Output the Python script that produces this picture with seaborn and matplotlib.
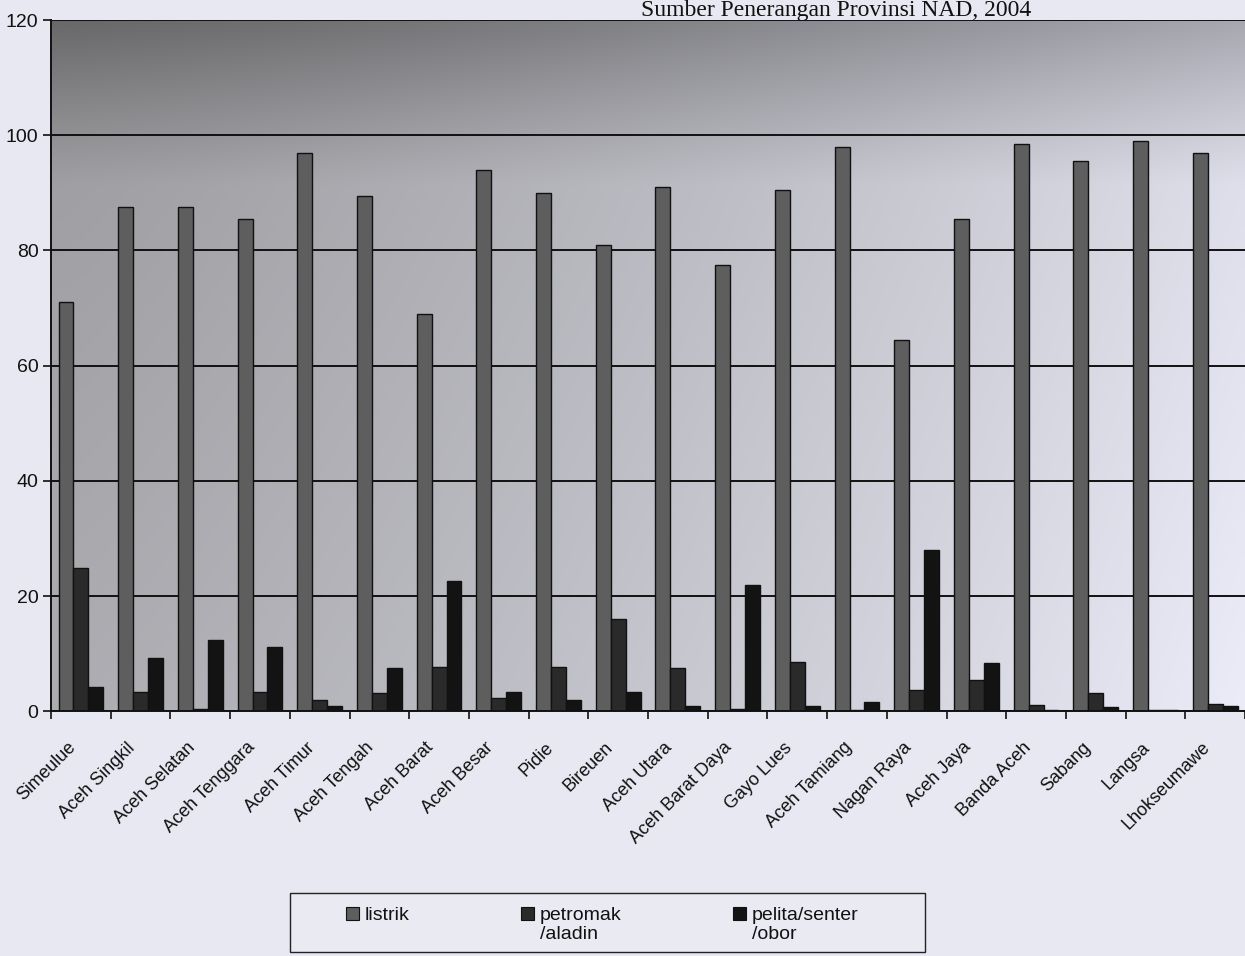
import numpy as np
import pandas as pd
import matplotlib
matplotlib.use("Agg")
import matplotlib.pyplot as plt
import matplotlib.transforms as mtransforms
import seaborn as sns
from matplotlib.patches import Rectangle
from matplotlib.legend_handler import HandlerPatch
from matplotlib.ticker import FixedLocator

# ---------------- data ----------------
categories = ["Simeulue", "Aceh Singkil", "Aceh Selatan", "Aceh Tenggara", "Aceh Timur",
              "Aceh Tengah", "Aceh Barat", "Aceh Besar", "Pidie", "Bireuen",
              "Aceh Utara", "Aceh Barat Daya", "Gayo Lues", "Aceh Tamiang", "Nagan Raya",
              "Aceh Jaya", "Banda Aceh", "Sabang", "Langsa", "Lhokseumawe"]
listrik = [71.0, 87.5, 87.5, 85.5, 97.0, 89.5, 69.0, 94.0, 90.0, 81.0,
           91.0, 77.5, 90.5, 98.0, 64.5, 85.5, 98.5, 95.5, 99.0, 97.0]
petromak = [24.9, 3.3, 0.4, 3.3, 2.0, 3.2, 7.7, 2.3, 7.7, 16.0,
            7.5, 0.4, 8.6, 0.3, 3.7, 5.4, 1.1, 3.2, 0.3, 1.3]
pelita = [4.2, 9.3, 12.3, 11.2, 0.9, 7.5, 22.6, 3.3, 2.0, 3.3,
          0.9, 22.0, 1.0, 1.6, 28.0, 8.4, 0.3, 0.8, 0.2, 0.9]
series_names = ["listrik", "petromak\n/aladin", "pelita/senter\n/obor"]
yticks = [0, 20, 40, 60, 80, 100, 120]
title_text = "Sumber Penerangan Provinsi NAD, 2004"

df = pd.DataFrame({
    "kabupaten": categories * 3,
    "sumber": [series_names[0]] * len(categories) + [series_names[1]] * len(categories)
              + [series_names[2]] * len(categories),
    "persen": listrik + petromak + pelita,
})

sns.set_theme(style="white")
plt.rcParams["font.family"] = ["Liberation Sans", "DejaVu Sans"]

bar_colors = ["#5e5e5e", "#2a2a2a", "#131313"]

fig = plt.figure(figsize=(12.45, 9.56), dpi=100, facecolor="#e7e8f1")
ax = fig.add_axes([0.041, 0.256, 0.959, 0.723])

sns.barplot(data=df, x="kabupaten", y="persen", hue="sumber", hue_order=series_names,
            order=categories, palette=bar_colors, width=0.75, edgecolor="#111111",
            linewidth=1.0, ax=ax, legend=False, zorder=2)

# background gradient (scanned grey look): lighter to the right, darker at the top
ny, nx = 200, 300
yy, xx = np.mgrid[0:1:complex(0, ny), 0:1:complex(0, nx)]   # yy = 0 at top row
base_l = np.array([160, 160, 164]) / 255
base_r = np.array([222, 223, 234]) / 255
xw = np.clip(xx ** 1.3, 0, 1)[..., None]
base = (1 - xw) * base_l + xw * base_r
topdark = (np.clip(1 - yy / 0.24, 0, 1) ** 1.1)[..., None] * np.array([0.22, 0.22, 0.23])
lowlight = (np.clip((yy - 0.24) / 0.76, 0, 1))[..., None] * np.array([0.05, 0.05, 0.055])
grad = np.clip(base - topdark + lowlight, 0, 1)
ax.imshow(grad, extent=[-0.5, len(categories) - 0.5, 0, 120], aspect="auto",
          origin="upper", zorder=0, interpolation="bilinear")

ax.set_xlim(-0.5, len(categories) - 0.5)
ax.set_ylim(0, 120)
ax.set_yticks(yticks)
ax.set_yticklabels([str(v) for v in yticks], fontsize=14)
ax.yaxis.grid(True, color="#111111", linewidth=1.4)
ax.set_axisbelow(True)
ax.set_xlabel("")
ax.set_ylabel("")

ax.tick_params(axis="y", which="major", direction="out", length=6, width=1.2,
               color="#111111", pad=3, labelcolor="#111111", left=True)
ax.set_xticks(range(len(categories)))
ax.set_xticklabels(categories, rotation=45, ha="right", rotation_mode="anchor",
                   fontsize=13, color="#111111")
ax.tick_params(axis="x", which="major", length=0, pad=20)
offset = mtransforms.ScaledTranslation(-14 / 100, 0, fig.dpi_scale_trans)
for lab in ax.get_xticklabels():
    lab.set_transform(lab.get_transform() + offset)
ax.xaxis.set_minor_locator(FixedLocator([i + 0.5 for i in range(-1, len(categories))]))
ax.tick_params(axis="x", which="minor", direction="out", length=6, width=1.2,
               color="#111111", bottom=True)

for side in ["top", "right"]:
    ax.spines[side].set_visible(False)
for side in ["left", "bottom"]:
    ax.spines[side].set_color("#111111")
    ax.spines[side].set_linewidth(1.4)

# title
fig.text(0.828, 0.9835, title_text, ha="right", va="baseline", fontsize=17,
         family=["Liberation Serif", "DejaVu Serif"], color="#111111")


# legend with squares aligned to first text line
class RaisedSquare(HandlerPatch):
    def create_artists(self, legend, orig_handle, xdescent, ydescent, width, height,
                       fontsize, trans):
        s = fontsize * 0.68
        shift = fontsize * 0.62
        p = Rectangle((width - s - xdescent, -ydescent + shift), s, s,
                      facecolor=orig_handle.get_facecolor(),
                      edgecolor="#111111", linewidth=0.8, transform=trans)
        return [p]


# legend frame
fig.patches.append(Rectangle((290 / 1245, 4 / 956), 635 / 1245, 59 / 956,
                             transform=fig.transFigure, facecolor="#e9eaf2",
                             edgecolor="#222222", linewidth=1.0, zorder=1))

handles = [Rectangle((0, 0), 1, 1, facecolor=c) for c in bar_colors]
labels = ["listrik\n ", series_names[1], series_names[2]]
leg = fig.legend(handles, labels, loc="upper left",
                 bbox_to_anchor=(290 / 1245, 1 - 890 / 956), ncol=3,
                 fontsize=14, frameon=False, handlelength=2.65, handletextpad=0.3,
                 columnspacing=3.75, borderpad=0.4, labelspacing=0.0,
                 handler_map={Rectangle: RaisedSquare()})
for t in leg.get_texts():
    t.set_color("#111111")
    t.set_linespacing(1.15)

fig.savefig("out.png", dpi=100, facecolor=fig.get_facecolor())
